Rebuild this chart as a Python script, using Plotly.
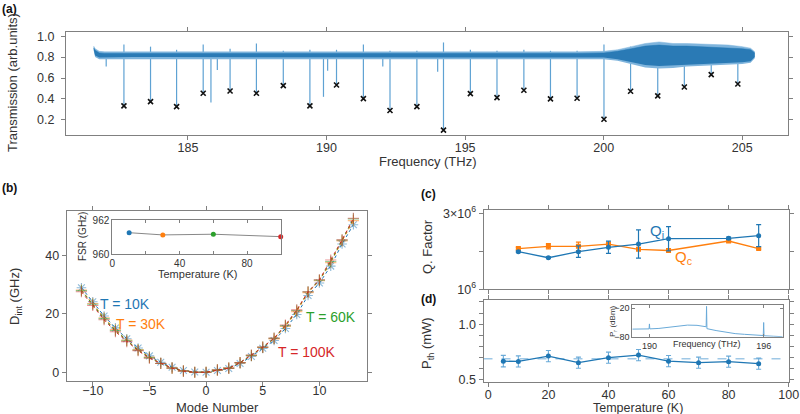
import plotly.graph_objects as go

# ---------------- data ----------------
# (a) transmission spectrum: envelope of the noisy trace
env_f  = [181.6, 181.65, 181.8, 182.0, 183.0, 184.0, 185.0, 186.0, 187.0, 188.0, 189.0, 190.0,
          191.0, 192.0, 193.0, 194.0, 195.0, 196.0, 197.0, 198.0, 199.0, 200.0, 200.5, 201.0,
          201.5, 202.0, 202.5, 203.0, 203.5, 204.0, 204.5, 205.0, 205.3, 205.45]
out_hi = [0.905, 0.88, 0.855, 0.85, 0.85, 0.85, 0.85, 0.85, 0.85, 0.85, 0.845, 0.845,
          0.845, 0.845, 0.845, 0.845, 0.845, 0.845, 0.845, 0.845, 0.85, 0.855, 0.87, 0.90,
          0.93, 0.945, 0.93, 0.93, 0.925, 0.92, 0.915, 0.90, 0.885, 0.85]
out_lo = [0.86, 0.80, 0.78, 0.78, 0.785, 0.785, 0.785, 0.785, 0.785, 0.785, 0.785, 0.785,
          0.785, 0.785, 0.785, 0.785, 0.785, 0.785, 0.785, 0.785, 0.785, 0.78, 0.765, 0.73,
          0.70, 0.69, 0.695, 0.71, 0.715, 0.72, 0.73, 0.735, 0.745, 0.79]
in_hi  = [0.89, 0.865, 0.84, 0.835, 0.835, 0.835, 0.835, 0.835, 0.835, 0.835, 0.83, 0.83,
          0.83, 0.83, 0.83, 0.83, 0.83, 0.83, 0.83, 0.83, 0.835, 0.84, 0.855, 0.88,
          0.905, 0.915, 0.905, 0.905, 0.90, 0.895, 0.89, 0.88, 0.87, 0.84]
in_lo  = [0.87, 0.815, 0.795, 0.797, 0.80, 0.80, 0.80, 0.80, 0.80, 0.80, 0.80, 0.80,
          0.80, 0.80, 0.80, 0.80, 0.80, 0.80, 0.80, 0.80, 0.80, 0.795, 0.78, 0.75,
          0.725, 0.715, 0.72, 0.73, 0.735, 0.74, 0.745, 0.75, 0.76, 0.80]
# resonances (marked with x)
res_f    = [182.69, 183.65, 184.59, 185.55, 186.52, 187.47, 188.44, 189.40, 190.36, 191.33, 192.29, 193.26,
            194.22, 195.19, 196.15, 197.12, 198.08, 199.04, 200.01, 200.97, 201.95, 202.91, 203.88, 204.84]
res_min  = [0.333, 0.374, 0.327, 0.454, 0.476, 0.454, 0.527, 0.333, 0.533, 0.403, 0.289, 0.327,
            0.102, 0.451, 0.413, 0.483, 0.400, 0.406, 0.206, 0.473, 0.429, 0.514, 0.632, 0.543]
res_peak = [0.92, 0.90, 0.87, 0.92, 0.88, 0.93, 0.86, 0.87, 0.87, 0.92, 0.86, 0.86,
            0.94, 0.87, 0.86, 0.87, 0.86, 0.86, 0.92, 0.90, 0.92, 0.90, 0.90, 0.90]
# extra (unmarked) dips
extra_f   = [182.05, 185.83, 186.06, 189.89, 190.04, 192.03, 194.01]
extra_min = [0.71, 0.365, 0.676, 0.42, 0.67, 0.71, 0.66]

# (b) integrated dispersion
mode = list(range(-11, 14))
d10  = [29.0, 24.2, 19.3, 15.2, 11.5, 8.3, 5.6, 3.4, 1.7, 0.6, 0.1, 0.0, 0.6, 1.3, 3.0, 5.4, 8.2, 10.9,
        15.0, 19.8, 26.3, 30.6, 36.4, 44.0, 50.6]
d30  = [28.2, 23.6, 18.7, 14.6, 11.0, 7.8, 5.2, 3.1, 1.5, 0.5, 0.0, 0.0, 0.7, 1.4, 3.2, 5.7, 8.5, 11.4,
        15.7, 20.8, 27.3, 31.4, 37.6, 45.0, 52.0]
d60  = [28.0, 23.3, 18.4, 14.3, 10.8, 7.6, 5.0, 3.0, 1.4, 0.4, 0.0, 0.0, 0.8, 1.4, 3.3, 5.8, 8.6, 11.6,
        16.0, 21.2, 27.6, 31.6, 38.0, 45.3, 52.6]
d100 = [27.6, 22.9, 18.0, 13.9, 10.5, 7.4, 4.8, 3.0, 1.4, 0.4, 0.0, 0.0, 0.8, 1.4, 3.3, 5.9, 8.6, 11.7,
        16.2, 21.4, 27.6, 31.7, 38.5, 45.4, 52.8]
fsr_T = [10, 30, 60, 100]
fsr   = [961.26, 961.13, 961.17, 961.03]

# (c) Q factors
q_T    = [10, 20, 30, 40, 50, 60, 80, 90]
qi     = [1.99e6, 1.83e6, 1.99e6, 2.105e6, 2.19e6, 2.33e6, 2.34e6, 2.41e6]
qi_err = [0.02e6, 0.02e6, 0.15e6, 0.16e6, 0.37e6, 0.32e6, 0.03e6, 0.29e6]
qc     = [2.07e6, 2.13e6, 2.13e6, 2.19e6, 2.05e6, 2.02e6, 2.27e6, 2.07e6]
qc_err = [0.03e6, 0.07e6, 0.11e6, 0.03e6, 0.03e6, 0.02e6, 0.03e6, 0.02e6]

# (d) threshold power
pth_T   = [5, 10, 20, 30, 40, 50, 60, 70, 80, 90]
pth     = [0.668, 0.665, 0.713, 0.654, 0.699, 0.722, 0.668, 0.654, 0.663, 0.645]
pth_err = [0.052, 0.05, 0.05, 0.05, 0.05, 0.05, 0.05, 0.05, 0.05, 0.05]
pth_mean = 0.69
# (d) inset spectrum
pin_f = [189.1, 189.5, 189.98, 190.0, 190.02, 190.5, 191.0, 191.5, 192.0, 192.5, 192.98, 193.0, 193.02,
         193.5, 194.0, 194.5, 195.0, 195.5, 195.98, 196.0, 196.02, 196.5, 197.0]
pin_v = [-64, -64.5, -63.5, -53, -63.5, -62.5, -60, -57, -55.5, -56, -59, -16, -63,
         -67, -71, -73.5, -75, -76.5, -77.5, -50, -78, -79, -80]

# ---------------- style ----------------
BLUE = '#1f77b4'; ORANGE = '#ff7f0e'; GREEN = '#2ca02c'; RED = '#d62728'
AXC = '#808080'
FONT = 'Liberation Sans'
TXT = '#333333'
W, H = 800, 414

def px(x):
    return x / W

def py(y):
    return 1 - y / H

def axis(**kw):
    d = dict(showline=True, linecolor=AXC, linewidth=1, mirror='allticks', ticks='outside',
             ticklen=4, tickcolor=AXC, tickwidth=1, showgrid=False, zeroline=False, automargin=False,
             tickfont=dict(family=FONT, size=12.5, color=TXT))
    d.update(kw)
    return d

fig = go.Figure()

# ---- (a) ----
dx, dy = [], []
for f, lo, hi in zip(res_f, res_min, res_peak):
    dx += [f, f, None]; dy += [hi, lo, None]
for f, lo in zip(extra_f, extra_min):
    dx += [f, f, None]; dy += [0.81, lo, None]
fig.add_trace(go.Scatter(x=dx, y=dy, mode='lines', line=dict(color='#5fa2d3', width=1.2),
                         xaxis='x', yaxis='y', showlegend=False, hoverinfo='skip'))
fig.add_trace(go.Scatter(x=env_f, y=out_lo, mode='lines', line=dict(width=0, color='#7fb4dc'),
                         xaxis='x', yaxis='y', showlegend=False))
fig.add_trace(go.Scatter(x=env_f, y=out_hi, mode='lines', line=dict(width=0.5, color='#7fb4dc'),
                         fill='tonexty', fillcolor='#7fb4dc', xaxis='x', yaxis='y', showlegend=False))
fig.add_trace(go.Scatter(x=env_f, y=in_lo, mode='lines', line=dict(width=0, color=BLUE),
                         xaxis='x', yaxis='y', showlegend=False))
fig.add_trace(go.Scatter(x=env_f, y=in_hi, mode='lines', line=dict(width=0.5, color=BLUE),
                         fill='tonexty', fillcolor='#2a7ab5', xaxis='x', yaxis='y', showlegend=False))
fig.add_trace(go.Scatter(x=res_f, y=res_min, mode='markers',
                         marker=dict(symbol='x-thin', size=5, line=dict(color='#111111', width=1.6)),
                         xaxis='x', yaxis='y', showlegend=False))

# ---- (b) ----
series_b = [(d10, BLUE, 'asterisk'), (d30, ORANGE, 'cross-thin'), (d60, GREEN, 'cross-thin'), (d100, RED, 'cross-thin')]
for vals, col, sym in series_b:
    fig.add_trace(go.Scatter(x=mode, y=vals, mode='lines+markers',
                             line=dict(color=col, width=1.0, dash='dot'),
                             marker=dict(symbol=sym, size=8, opacity=0.5, line=dict(color=col, width=1.1)),
                             xaxis='x2', yaxis='y2', showlegend=False))
# inset (b)
fig.add_trace(go.Scatter(x=fsr_T, y=fsr, mode='lines', line=dict(color='#888888', width=1), cliponaxis=False,
                         xaxis='x3', yaxis='y3', showlegend=False))
fig.add_trace(go.Scatter(x=fsr_T, y=fsr, mode='markers', cliponaxis=False,
                         marker=dict(size=5, color=[BLUE, ORANGE, GREEN, RED]),
                         xaxis='x3', yaxis='y3', showlegend=False))

# ---- (c) ----
fig.add_trace(go.Scatter(x=q_T, y=qc, mode='lines+markers', line=dict(color=ORANGE, width=1.3),
                         marker=dict(symbol='square', size=5, color=ORANGE),
                         error_y=dict(type='data', array=qc_err, color=ORANGE, thickness=1.2, width=2.5),
                         xaxis='x4', yaxis='y4', showlegend=False))
fig.add_trace(go.Scatter(x=q_T, y=qi, mode='lines+markers', line=dict(color=BLUE, width=1.3),
                         marker=dict(symbol='circle', size=5, color=BLUE),
                         error_y=dict(type='data', array=qi_err, color=BLUE, thickness=1.2, width=2.5),
                         xaxis='x4', yaxis='y4', showlegend=False))

# ---- (d) ----
fig.add_trace(go.Scatter(x=[-1.6, 100], y=[pth_mean, pth_mean], mode='lines',
                         line=dict(color='#9fc8e6', width=1.6, dash='dash'),
                         xaxis='x5', yaxis='y5', showlegend=False))
fig.add_trace(go.Scatter(x=pth_T, y=pth, mode='lines+markers', line=dict(color=BLUE, width=1.3),
                         marker=dict(symbol='circle', size=5, color=BLUE),
                         error_y=dict(type='data', array=pth_err, color='#6aaad8', thickness=1.1, width=2.5),
                         xaxis='x5', yaxis='y5', showlegend=False))
# inset (d)
fig.add_trace(go.Scatter(x=pin_f, y=pin_v, mode='lines', line=dict(color='#6aaad8', width=1),
                         xaxis='x6', yaxis='y6', showlegend=False))

small = dict(family=FONT, size=10, color=TXT)
tiny = dict(family=FONT, size=9, color=TXT)
fig.update_layout(
    width=W, height=H, margin=dict(l=0, r=0, t=0, b=0),
    paper_bgcolor='white', plot_bgcolor='white',
    font=dict(family=FONT, color=TXT),
    xaxis=axis(domain=[px(66), px(788)], anchor='y', range=[180.6, 206.65],
               tickvals=[185, 190, 195, 200, 205], ticklabelstandoff=-3),
    yaxis=axis(domain=[py(135), py(32)], anchor='x', range=[0.055, 1.04],
               tickvals=[0.2, 0.4, 0.6, 0.8, 1.0], ticktext=['0.2', '0.4', '0.6', '0.8', '1.0'],
               ticklabelstandoff=4),
    xaxis2=axis(domain=[px(66.7), px(367)], anchor='y2', range=[-12.3, 14.2],
                tickvals=[-10, -5, 0, 5, 10], ticktext=['\u221210', '\u22125', '0', '5', '10'],
                ticklabelstandoff=-6),
    yaxis2=axis(domain=[py(380.7), py(210.7)], anchor='x2', range=[-2.9, 55.4],
                tickvals=[0, 20, 40]),
    xaxis3=axis(domain=[px(112.3), px(280.7)], anchor='y3', range=[0, 100], ticks='inside', ticklen=3,
                tickvals=[0, 40, 80], tickfont=small,
                minor=dict(tickvals=[20, 60], ticks='inside', ticklen=3, tickcolor=AXC)),
    yaxis3=axis(domain=[py(254.3), py(220)], anchor='x3', range=[960, 962], ticks='inside', ticklen=3,
                tickvals=[960, 962], tickfont=small),
    xaxis4=axis(domain=[px(483.5), px(788.7)], anchor='y4', range=[-1.6, 100],
                tickvals=[0, 20, 40, 60, 80, 100], showticklabels=False),
    yaxis4=axis(domain=[py(289.3), py(210)], anchor='x4', range=[1e6, 3.085e6],
                tickvals=[1e6, 3e6], ticktext=['10<sup>6</sup>', '3\u00d710<sup>6</sup>'],
                minor=dict(tickvals=[2e6], ticks='outside', ticklen=4, tickcolor=AXC)),
    xaxis5=axis(domain=[px(483.5), px(788.7)], anchor='y5', range=[-1.6, 100],
                tickvals=[0, 20, 40, 60, 80, 100], ticklabelstandoff=-3),
    yaxis5=axis(domain=[py(381.5), py(300)], anchor='x5', range=[0.485, 1.217],
                tickvals=[0.5, 1.0], ticktext=['0.5', '1.0'],
                minor=dict(tickvals=[0.6, 0.7, 0.8, 0.9, 1.1, 1.2], ticks='outside', ticklen=4, tickcolor=AXC)),
    xaxis6=axis(domain=[px(632.3), px(782.7)], anchor='y6', range=[189.1, 197.0], ticks='inside', ticklen=3,
                tickvals=[190, 196], tickfont=tiny),
    yaxis6=axis(domain=[py(336.7), py(304.7)], anchor='x6', range=[-80, -12.4], ticks='inside', ticklen=3,
                tickvals=[-80, -20], ticktext=['\u221280', '\u221220'], tickfont=tiny),
)

def ann(text, x, y, size=13, color=TXT, angle=0, bold=False):
    fig.add_annotation(text=('<b>%s</b>' % text) if bold else text, x=px(x), y=py(y),
                       xref='paper', yref='paper', showarrow=False, textangle=angle,
                       font=dict(family=FONT, size=size, color=color), xanchor='center', yanchor='middle')

ann('(a)', 9, 9, 12, '#111111', bold=True)
ann('(b)', 9, 188, 12, '#111111', bold=True)
ann('(c)', 428, 194, 12, '#111111', bold=True)
ann('(d)', 428, 299, 12, '#111111', bold=True)
ann('Transmission (arb.units)', 12, 83, 13, angle=-90)
ann('Frequency (THz)', 427.5, 162, 13)
ann('D<sub>int</sub> (GHz)', 15, 297, 13, angle=-90)
ann('Mode Number', 217, 407.5, 13)
ann('Q. Factor', 427, 246, 13, angle=-90)
ann('P<sub>th</sub> (mW)', 427, 343, 13, angle=-90)
ann('Temperature (K)', 638, 408, 12.5)
ann('FSR (GHz)', 82, 237, 10, angle=-90)
ann('Temperature (K)', 197, 274, 11)
ann('P<sub>r</sub> (dBm)', 613, 321, 8, angle=-90)
ann('Frequency (THz)', 707, 344, 9)
ann('T = 10K', 125, 304, 14, BLUE)
ann('T = 30K', 141, 324, 14, ORANGE)
ann('T = 60K', 331, 317, 14, GREEN)
ann('T = 100K', 307, 352, 14, RED)
ann('Q<sub>i</sub>', 657, 231, 15, BLUE)
ann('Q<sub>c</sub>', 683, 257, 15, ORANGE)

fig.write_html('out.html', config={'displayModeBar': False},
               post_script="document.body.style.margin='0';document.body.style.padding='0';"
                           "document.documentElement.style.overflow='hidden';")
